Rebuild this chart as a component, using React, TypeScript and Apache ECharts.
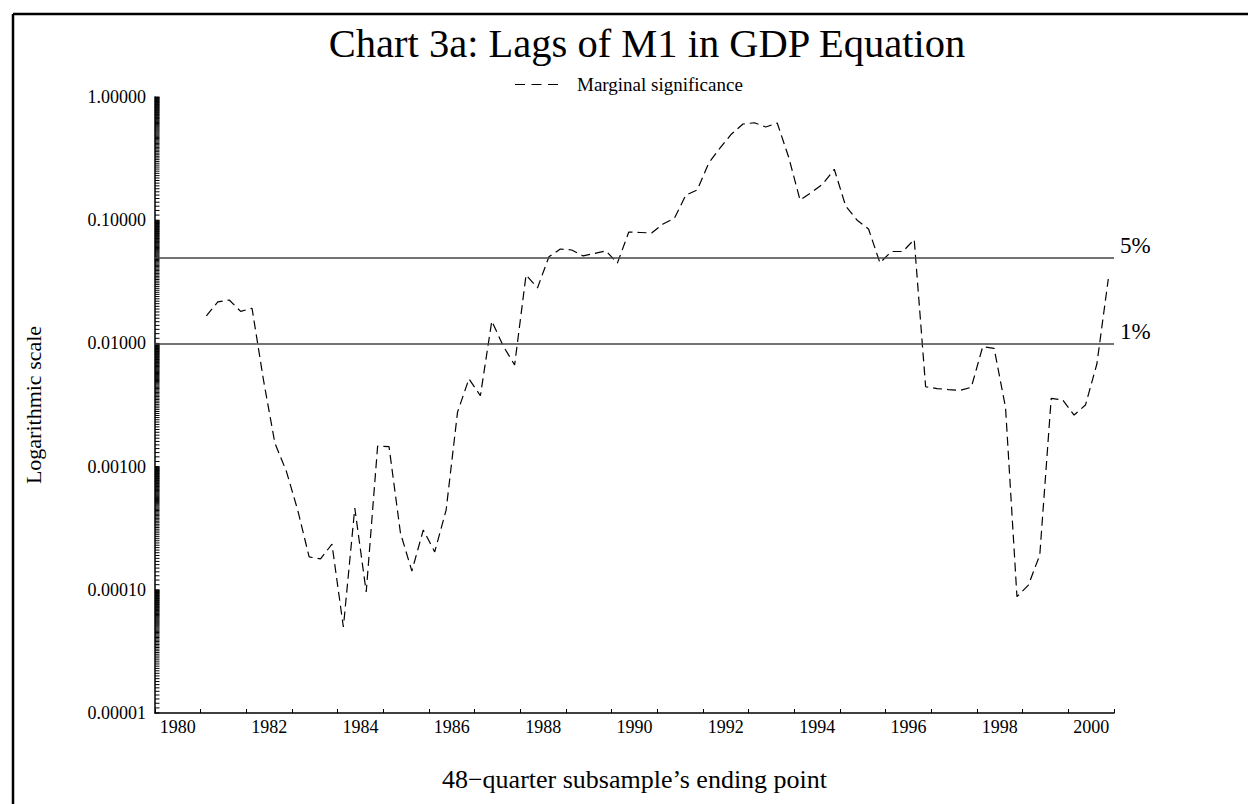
import React, { useEffect, useRef } from "react";
import * as echarts from "echarts";

// ---- data ----
const titleText = "Chart 3a: Lags of M1 in GDP Equation";
const legendName = "Marginal significance";
const xAxisName = "48\u2212quarter subsample\u2019s ending point";
const yAxisName = "Logarithmic scale";
const yearCategories = [
  "1980", "1981", "1982", "1983", "1984", "1985", "1986", "1987", "1988", "1989",
  "1990", "1991", "1992", "1993", "1994", "1995", "1996", "1997", "1998", "1999", "2000",
];
const firstQuarter = { year: 1981, quarter: 1 };
// marginal significance levels, quarterly, 1981:1 .. 2000:4
const pValues = [
  0.0167, 0.0217, 0.0225, 0.0182, 0.0193, 0.00505, 0.00155, 0.00092, 0.000444, 0.000185,
  0.000178, 0.000235, 0.0000499, 0.000461, 0.0000959, 0.00147, 0.00145, 0.000289, 0.000142, 0.000306,
  0.000203, 0.000444, 0.00277, 0.00516, 0.00376, 0.0152, 0.00953, 0.00668, 0.0359, 0.0282,
  0.0504, 0.0584, 0.0573, 0.0513, 0.0537, 0.0564, 0.0448, 0.0802, 0.0795, 0.0787,
  0.0931, 0.104, 0.16, 0.176, 0.291, 0.386, 0.501, 0.604, 0.618, 0.571,
  0.615, 0.326, 0.146, 0.168, 0.197, 0.259, 0.13, 0.1, 0.0849, 0.045,
  0.0557, 0.0557, 0.0697, 0.00445, 0.0043, 0.00422, 0.00415, 0.0044, 0.0094, 0.00912,
  0.00302, 0.0000879, 0.000109, 0.000192, 0.00358, 0.00348, 0.00262, 0.00316, 0.0068, 0.0333,
];
const thresholds = [
  { value: 0.05, label: "5%" },
  { value: 0.01, label: "1%" },
];
const yMin = 0.00001;
const yMax = 1;
const xMin = 1980;
const xMax = 2001;

const FONT = "'Liberation Serif', 'Times New Roman', serif";
// dashed-line legend icon (three dashes)
const DASH_ICON = "path://M0,0h10v1h-10z M16.5,0h10v1h-10z M33,0h10v1h-10z";

export default function App() {
  const ref = useRef<HTMLDivElement>(null);

  useEffect(() => {
    document.body.style.margin = "0";
    if (!ref.current) return;
    const chart = echarts.init(ref.current, null, { renderer: "svg" });

    const lineData = pValues.map((v, i) => [
      firstQuarter.year + (firstQuarter.quarter - 1 + i + 0.5) / 4,
      v,
    ]);

    // minor tick values on the log axis: m * 10^k, m = 1.0, 1.1, ... 9.9
    const tickValues: number[][] = [];
    for (let k = -5; k < 0; k++) {
      for (let m = 10; m < 100; m++) {
        tickValues.push([xMin, (m / 10) * Math.pow(10, k)]);
      }
    }
    tickValues.push([xMin, 1]);

    const option: any = {
      animation: false,
      backgroundColor: "#fff",
      textStyle: { fontFamily: FONT, color: "#000" },
      title: {
        text: titleText,
        left: 647,
        top: 23,
        padding: 0,
        textAlign: "center",
        textStyle: { fontFamily: FONT, fontSize: 40.5, fontWeight: "normal", color: "#000" },
      },
      legend: {
        data: [{ name: legendName, icon: DASH_ICON }],
        left: 515,
        top: 75,
        padding: 0,
        itemWidth: 43,
        itemHeight: 1.3,
        itemStyle: { color: "#000", borderWidth: 0 },
        textStyle: { fontFamily: FONT, fontSize: 19, color: "#000", padding: [0, 0, 0, 14] },
      },
      grid: { left: 155, right: 134, top: 97, bottom: 91, containLabel: false },
      xAxis: [
        {
          type: "category",
          data: yearCategories,
          boundaryGap: true,
          axisLine: { show: true, lineStyle: { color: "#000", width: 1.5 } },
          axisTick: { show: true, inside: true, length: 4, interval: 0, alignWithLabel: false, lineStyle: { color: "#000", width: 1 } },
          axisLabel: { interval: 1, fontFamily: FONT, fontSize: 18, color: "#000", margin: 5 },
          splitLine: { show: false },
          name: xAxisName,
          nameLocation: "middle",
          nameGap: 53,
          nameTextStyle: { fontFamily: FONT, fontSize: 26, color: "#000" },
        },
        {
          type: "value",
          min: xMin,
          max: xMax,
          show: false,
        },
      ],
      yAxis: {
        type: "log",
        logBase: 10,
        min: yMin,
        max: yMax,
        axisLine: { show: true, lineStyle: { color: "#000", width: 1.5 } },
        axisTick: { show: false },
        splitLine: { show: false },
        minorTick: { show: false },
        axisLabel: {
          fontFamily: FONT,
          fontSize: 18,
          color: "#000",
          margin: 9,
          formatter: (v: number) => Number(v).toFixed(5),
        },
        name: yAxisName,
        nameLocation: "middle",
        nameGap: 111,
        nameTextStyle: { fontFamily: FONT, fontSize: 22, color: "#000" },
      },
      graphic: [
        { type: "line", shape: { x1: 13, y1: 14, x2: 1248, y2: 14 }, style: { stroke: "#000", lineWidth: 2.5 } },
        { type: "line", shape: { x1: 13, y1: 14, x2: 13, y2: 804 }, style: { stroke: "#000", lineWidth: 2.5 } },
      ],
      series: [
        {
          name: legendName,
          type: "line",
          xAxisIndex: 1,
          yAxisIndex: 0,
          data: lineData,
          symbol: "none",
          showSymbol: false,
          lineStyle: { color: "#000", width: 1.2, type: [9, 5] },
          itemStyle: { color: "#000" },
          markLine: {
            silent: true,
            symbol: ["none", "none"],
            lineStyle: { color: "#444", width: 1.5, type: "solid" },
            label: {
              show: true,
              position: "end",
              distance: 6,
              verticalAlign: "bottom",
              fontFamily: FONT,
              fontSize: 23,
              color: "#000",
            },
            data: thresholds.map((t) => ({
              yAxis: t.value,
              label: { formatter: t.label },
            })),
          },
        },
        {
          name: "ticks",
          type: "custom",
          xAxisIndex: 1,
          yAxisIndex: 0,
          silent: true,
          data: tickValues,
          renderItem: (params: any, api: any) => {
            const p = api.coord([api.value(0), api.value(1)]);
            return {
              type: "line",
              shape: { x1: p[0], y1: p[1], x2: p[0] + 4.5, y2: p[1] },
              style: { stroke: "#000", lineWidth: 1 },
            };
          },
        },
      ],
    };

    chart.setOption(option);
    return () => chart.dispose();
  }, []);

  return (
    <div
      ref={ref}
      style={{ position: "fixed", left: 0, top: 0, width: 1248, height: 804 }}
    />
  );
}
